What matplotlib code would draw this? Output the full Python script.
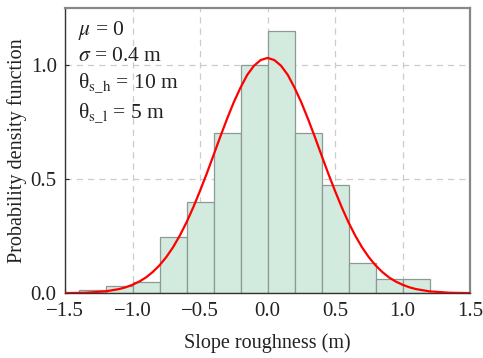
import matplotlib
matplotlib.use('Agg')
import matplotlib.pyplot as plt
import numpy as np

# histogram bins (m) and density heights
bin_edges = [-1.4, -1.2, -1.0, -0.8, -0.6, -0.4, -0.2, 0.0, 0.2, 0.4, 0.6, 0.8, 1.0, 1.2]
densities = [0.013, 0.03, 0.05, 0.244, 0.40, 0.70, 1.0, 1.15, 0.70, 0.474, 0.133, 0.06, 0.06]

# fitted normal curve, read at 0.05 m steps
curve_x = np.round(np.arange(-1.5, 1.5001, 0.05), 2)
curve_y = [0.0006, 0.001, 0.0015, 0.002, 0.004, 0.006, 0.008, 0.013, 0.018, 0.026,
           0.037, 0.051, 0.069, 0.093, 0.122, 0.158, 0.201, 0.252, 0.310, 0.376,
           0.448, 0.524, 0.604, 0.685, 0.763, 0.836, 0.900, 0.956, 0.996, 1.021,
           1.03,
           1.021, 0.996, 0.956, 0.900, 0.836, 0.763, 0.685, 0.604, 0.524, 0.448,
           0.376, 0.310, 0.252, 0.201, 0.158, 0.122, 0.093, 0.069, 0.051, 0.037,
           0.026, 0.018, 0.013, 0.008, 0.006, 0.004, 0.002, 0.0015, 0.001, 0.0006]

labels = [r'$\mu$ = 0', r'$\sigma$ = 0.4 m', r'θ$_{\mathrm{s\_h}}$ = 10 m', r'θ$_{\mathrm{s\_l}}$ = 5 m']
label_y = [0.904, 0.813, 0.722, 0.617]

plt.rcParams['font.family'] = ['Liberation Serif', 'DejaVu Serif']
plt.rcParams['mathtext.fontset'] = 'stix'

fig = plt.figure(figsize=(4.83, 3.58), dpi=100)
ax = fig.add_axes([0.1346, 0.181, 0.8385, 0.7975])

ax.grid(True, ls=(0, (5, 4)), color='#cccccc', lw=0.9, zorder=0)
ax.set_axisbelow(True)

ax.bar(bin_edges[:-1], densities, width=np.diff(bin_edges), align='edge',
       color='#d3eadf', edgecolor='#8c9a92', lw=0.9, zorder=2)
ax.plot(curve_x, curve_y, color='red', lw=1.6, zorder=3)

ax.set_xlim(-1.5, 1.5)
ax.set_ylim(0, 1.25)
ax.set_xticks([-1.5, -1.0, -0.5, 0.0, 0.5, 1.0, 1.5])
ax.set_xticklabels(['\u22121.5', '\u22121.0', '\u22120.5', '0.0', '0.5', '1.0', '1.5'])
ax.set_yticks([0.0, 0.5, 1.0])
ax.tick_params(direction='in', length=3, width=0.8, labelsize=15, colors='#222222', pad=6)

for s in ['top', 'right']:
    ax.spines[s].set_color('#888888')
    ax.spines[s].set_linewidth(1.6)
for s in ['left', 'bottom']:
    ax.spines[s].set_color('#333333')
    ax.spines[s].set_linewidth(1.0)

ax.set_xlabel('Slope roughness (m)', fontsize=14.5, labelpad=9, color='#222222')
ax.set_ylabel('Probability density function', fontsize=14.5, color='#222222')
ax.yaxis.set_label_coords(-0.094, 0.5)

for t, yy in zip(labels, label_y):
    ax.text(0.032, yy, t, transform=ax.transAxes, fontsize=15.5,
            va='baseline', ha='left', color='#222222')

fig.savefig('out.png', dpi=100)
